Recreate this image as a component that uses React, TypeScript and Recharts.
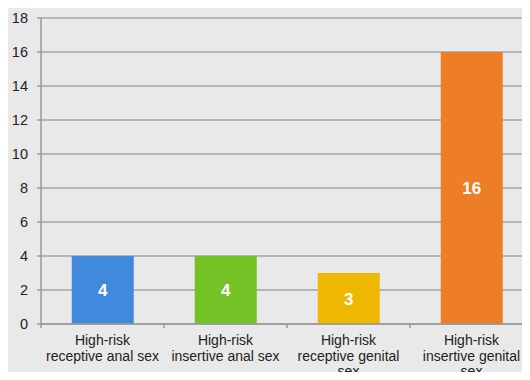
import React from "react";
import { BarChart, Bar, XAxis, YAxis, CartesianGrid, Cell, LabelList } from "recharts";

const categories = [
  "High-risk receptive anal sex",
  "High-risk insertive anal sex",
  "High-risk receptive genital sex",
  "High-risk insertive genital sex",
];
const counts = [4, 4, 3, 16];
const barColors = ["#4189dc", "#74c225", "#eeb701", "#ed7d27"];
const yTicks = [0, 2, 4, 6, 8, 10, 12, 14, 16, 18];

const data = categories.map((name, i) => ({ name, value: counts[i] }));

const FONT = "'Liberation Sans', Arial, Helvetica, sans-serif";
const CHART_W = 534;
const CHART_H = 380;
const LEFT = 41;
const RIGHT = 1;
const BAND = (CHART_W - LEFT - RIGHT) / categories.length;

// Greedy word wrap for the category labels
function wrap(text: string, max: number): string[] {
  const words = text.split(" ");
  const lines: string[] = [];
  let cur = "";
  for (const w of words) {
    const next = cur ? cur + " " + w : w;
    if (next.length > max && cur) {
      lines.push(cur);
      cur = w;
    } else {
      cur = next;
    }
  }
  if (cur) lines.push(cur);
  return lines;
}

const CategoryTick = (props: any) => {
  const { x, y, payload } = props;
  const lines = wrap(String(payload.value), 18);
  const left = x - BAND / 2;
  return (
    <g>
      <line x1={left} y1={y} x2={left} y2={y + 4} stroke="#9a9a9a" strokeWidth={1.5} />
      <text x={x} y={y} textAnchor="middle" fontFamily={FONT} fontSize={14} fill="#222">
        {lines.map((l, i) => (
          <tspan key={i} x={x} y={y + 21 + i * 15.5}>
            {l}
          </tspan>
        ))}
      </text>
    </g>
  );
};

export default function App() {
  return (
    <div style={{ margin: -8, width: 530, height: 380, overflow: "hidden", background: "#e9e9e9" }}>
      <BarChart
        width={CHART_W}
        height={CHART_H}
        data={data}
        margin={{ top: 18, right: RIGHT, bottom: 0, left: 0 }}
        barCategoryGap="25%"
        style={{ background: "#e9e9e9" }}
      >
        <CartesianGrid vertical={false} stroke="#a3a3a3" strokeWidth={1.5} />
        <XAxis
          dataKey="name"
          interval={0}
          height={56}
          axisLine={{ stroke: "#9a9a9a", strokeWidth: 1.5 }}
          tickLine={false}
          tickSize={0}
          tickMargin={0}
          tick={<CategoryTick />}
        />
        <YAxis
          width={LEFT}
          domain={[0, 18]}
          ticks={yTicks}
          interval={0}
          axisLine={{ stroke: "#9a9a9a", strokeWidth: 1.5 }}
          tickLine={{ stroke: "#9a9a9a", strokeWidth: 1.5 }}
          tickSize={4}
          tickMargin={9}
          tick={{ fontFamily: FONT, fontSize: 14.5, fill: "#222" }}
        />
        <Bar dataKey="value" isAnimationActive={false}>
          {data.map((d, i) => (
            <Cell key={d.name} fill={barColors[i]} />
          ))}
          <LabelList
            dataKey="value"
            position="center"
            fill="#ffffff"
            fontFamily={FONT}
            fontSize={17}
            fontWeight="bold"
          />
        </Bar>
      </BarChart>
    </div>
  );
}
